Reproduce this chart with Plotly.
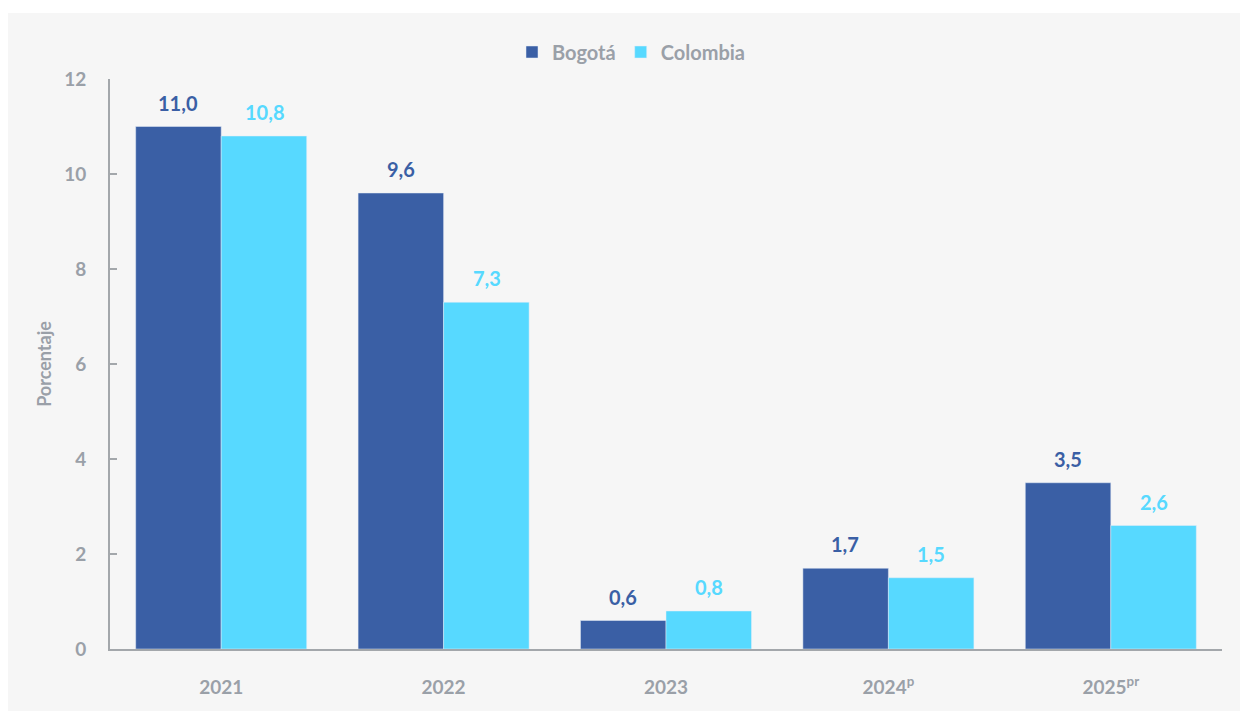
import plotly.graph_objects as go

categories = ["2021", "2022", "2023", "2024<sup>p</sup>", "2025<sup>pr</sup>"]
bogota = [11.0, 9.6, 0.6, 1.7, 3.5]
colombia = [10.8, 7.3, 0.8, 1.5, 2.6]
series_names = ["Bogotá", "Colombia"]
y_ticks = [0, 2, 4, 6, 8, 10, 12]

C_BOG = "#3a5fa5"
C_COL = "#57d9ff"
GRAY = "#9aa0a8"
FONT = "Lato"

def fmt(v):
    return f"{v:.1f}".replace(".", ",")

fig = go.Figure()
fig.add_trace(go.Bar(x=categories, y=bogota, name=series_names[0], marker_color=C_BOG))
fig.add_trace(go.Bar(x=categories, y=colombia, name=series_names[1], marker_color=C_COL))

annotations = []
for vals, col, shift in [(bogota, C_BOG, -43), (colombia, C_COL, 43)]:
    for i, v in enumerate(vals):
        # category index (category axis positions are indices)
        annotations.append(dict(x=i, y=v, text=f"<b>{fmt(v)}</b>", showarrow=False,
                                xref="x", yref="y", yanchor="bottom", xshift=shift, yshift=10,
                                font=dict(family=FONT, size=20, color=col)))

# page offset of 8px (body margin)
OFF = 8
W, H = 1240, 703
L, R, T, B = 110 - OFF, 26, 79 - OFF, 62
pw, ph = W - L - R, H - T - B
def px(x): return (x - OFF - L) / pw
def py(y): return (H - B - (y - OFF)) / ph

fig.update_layout(
    width=W, height=H,
    margin=dict(l=L, r=R, t=T, b=B),
    paper_bgcolor="white",
    plot_bgcolor="rgba(0,0,0,0)",
    barmode="group",
    bargap=0.231,
    bargroupgap=0,
    font=dict(family=FONT, color=GRAY, size=18),
    legend=dict(orientation="h", x=px(512), xanchor="left", y=py(52), yanchor="middle",
                font=dict(family=FONT, size=20, color=GRAY, weight="bold"),
                bgcolor="rgba(0,0,0,0)", itemclick=False),
    annotations=annotations,
    shapes=[dict(type="rect", xref="paper", yref="paper", x0=px(6), x1=px(1242),
                 y0=py(712), y1=py(13), fillcolor="#f6f6f6", line=dict(width=0), layer="below")],
    xaxis=dict(type="category", categoryorder="array", categoryarray=categories,
               range=[-0.5, len(categories) - 0.5],
               showline=True, linecolor="#a3a7ab", linewidth=2, ticks="",
               tickfont=dict(family=FONT, size=19, color=GRAY, weight="bold"),
               ticklabelstandoff=20, showgrid=False, zeroline=False),
    yaxis=dict(range=[0, 12], tickvals=y_ticks, showline=True, linecolor="#a3a7ab", linewidth=2,
               ticks="inside", ticklen=7, tickcolor="#a3a7ab", tickwidth=1.5,
               tickfont=dict(family=FONT, size=19, color=GRAY, weight="bold"),
               ticklabelstandoff=18, showgrid=False, zeroline=False,
               title=dict(text="Porcentaje", standoff=8,
                          font=dict(family=FONT, size=18, color=GRAY, weight="bold"))),
)

fig.write_html("out.html")
